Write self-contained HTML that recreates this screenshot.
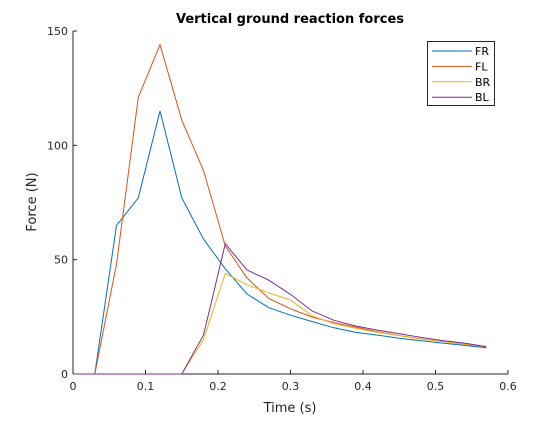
<!DOCTYPE html>
<html><head><meta charset="utf-8"><style>
body{margin:0;background:#fff}
svg text{font-family:"DejaVu Sans","Liberation Sans",sans-serif}
</style></head><body>
<svg width="560" height="420" xmlns="http://www.w3.org/2000/svg">
<rect width="560" height="420" fill="#fff"/>
<g id="axes"></g>
<g id="plot"></g>
<text x="290" y="23" text-anchor="middle" font-size="13" font-weight="bold">Vertical ground reaction forces</text>
<text x="290" y="412" text-anchor="middle" font-size="13" fill="#262626">Time (s)</text>
<text transform="translate(36,202) rotate(-90)" text-anchor="middle" font-size="13" fill="#262626">Force (N)</text>
<g id="legend"></g>
</svg>
<script>
const times=[0,0.03,0.06,0.09,0.12,0.15,0.18,0.21,0.24,0.27,0.3,0.33,0.36,0.39,0.42,0.45,0.48,0.51,0.54,0.57];
const seriesNames=["FR","FL","BR","BL"];
const FR=[0,0,65,77,115,77,59,46,35,29,25.7,22.9,20.2,18.2,17,15.6,14.5,13.5,12.5,11.5];
const FL=[0,0,48,121,144,111,89,56,42,33,28.5,24.9,22.5,20.5,18.5,16.8,15.3,14.2,13,12];
const BR=[0,0,0,0,0,0,15,44,39,35.5,32.3,25.4,22,20,18.2,16.8,15.3,14.2,13,12];
const BL=[0,0,0,0,0,0,17,57,45.5,41,34.8,27.5,23.5,21,19.2,17.6,16,14.6,13.5,12];
const xTicks=[0,0.1,0.2,0.3,0.4,0.5,0.6];
const yTicks=[0,50,100,150];
const colors=["#0072BD","#D95319","#EDB120","#7E2F8E"];
const X0=73,X1=508,Y0=374,Y1=31;
const xs=v=>X0+(v-0)/(0.6)*(X1-X0);
const ys=v=>Y0-(v/150)*(Y0-Y1);
const NS="http://www.w3.org/2000/svg";
function mk(t,a,p){const e=document.createElementNS(NS,t);for(const k in a)e.setAttribute(k,a[k]);p.appendChild(e);return e;}
const ax=document.getElementById('axes');
let l=mk('line',{x1:X0,y1:Y0,x2:X1,y2:Y0,stroke:'#262626','stroke-width':1},ax);


l=mk('line',{x1:X0,y1:Y0,x2:X0,y2:Y1,stroke:'#262626','stroke-width':1},ax);


xTicks.forEach(t=>{const x=xs(t);mk('line',{x1:x,y1:Y0,x2:x,y2:Y0-4,stroke:'#262626'},ax);
const tx=mk('text',{x:x,y:Y0+16,'text-anchor':'middle','font-size':11,fill:'#262626'},ax);tx.textContent=String(t);

});
yTicks.forEach(t=>{const y=ys(t);mk('line',{x1:X0,y1:y,x2:X0+4,y2:y,stroke:'#262626'},ax);
const tx=mk('text',{x:X0-5,y:y+4,'text-anchor':'end','font-size':11,fill:'#262626'},ax);tx.textContent=String(t);

});
const plot=document.getElementById('plot');
[FR,FL,BR,BL].forEach((s,i)=>{const pts=s.map((v,j)=>xs(times[j]).toFixed(1)+','+ys(v).toFixed(1)).join(' ');
const p=mk('polyline',{points:pts,fill:'none',stroke:colors[i],'stroke-width':1},plot);

});
const lg=document.getElementById('legend');
mk('rect',{x:427.5,y:41.5,width:67,height:64,fill:'#fff',stroke:'#262626','stroke-width':1},lg);
seriesNames.forEach((n,i)=>{const y=51+i*15.4;
mk('line',{x1:432,y1:y,x2:472,y2:y,stroke:colors[i]},lg);
const t=mk('text',{x:475,y:y+4,'font-size':11,fill:'#000'},lg);t.textContent=n;

});
</script>
</body></html>
